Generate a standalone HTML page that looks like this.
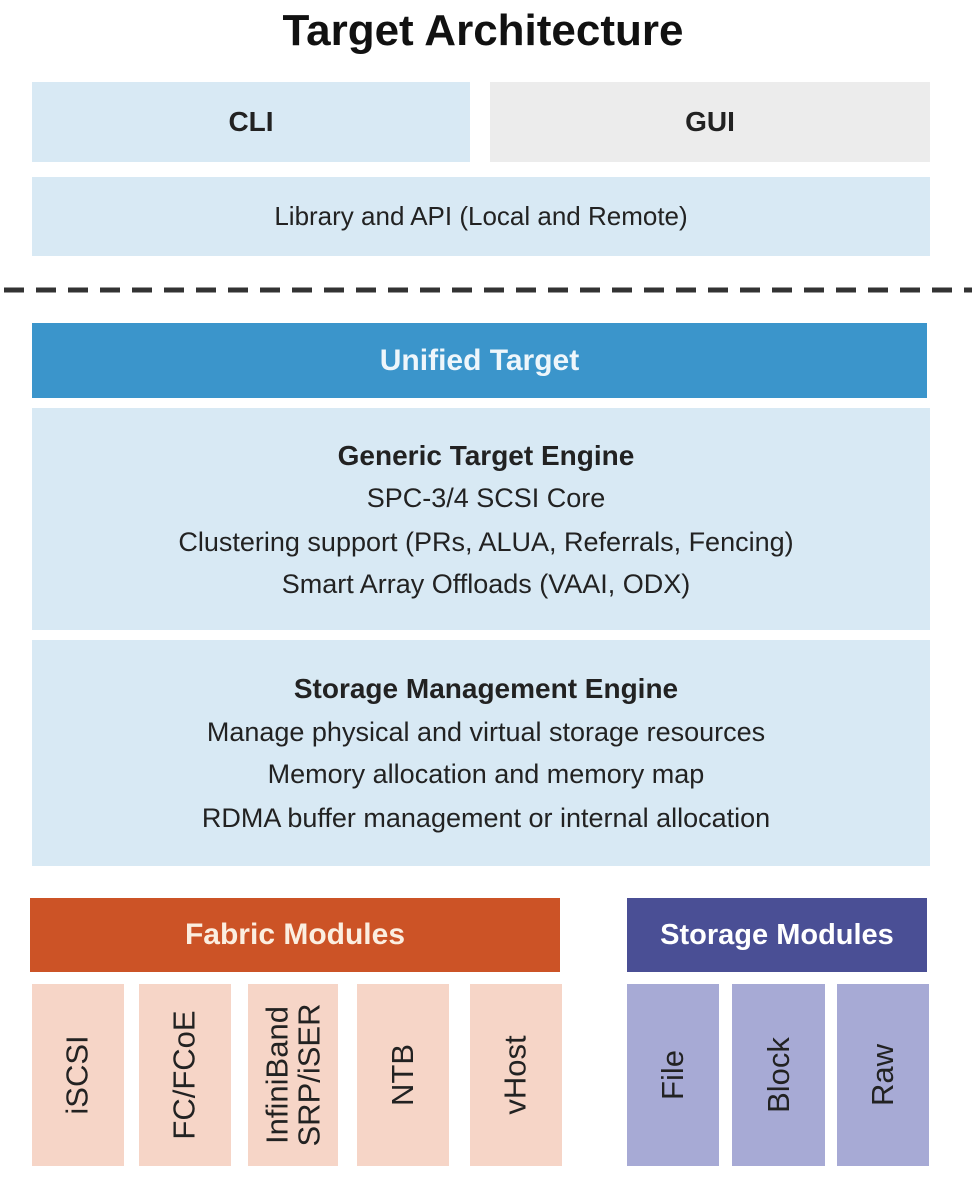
<!DOCTYPE html>
<html><head><meta charset="utf-8"><style>
body{margin:0;width:972px;height:1204px;background:#fff;position:relative;overflow:hidden;font-family:"Liberation Sans",sans-serif;color:#222}
.b{position:absolute;}
.t{position:absolute;left:0;right:0;text-align:center;white-space:nowrap}
.v{position:absolute;display:flex;align-items:center;justify-content:center}
.v span{transform:rotate(-90deg);white-space:nowrap;font-size:31px;line-height:32px;text-align:center;color:#222}
</style></head><body>
<div class="t" style="top:6px;font-size:44px;font-weight:bold;color:#111;left:-6px">Target Architecture</div>

<div class="b" style="left:32px;top:82px;width:438px;height:80px;background:#d8e9f4;line-height:80px;text-align:center;font-size:28px;font-weight:bold">CLI</div>
<div class="b" style="left:490px;top:82px;width:440px;height:80px;background:#ececec;line-height:80px;text-align:center;font-size:28px;font-weight:bold">GUI</div>
<div class="b" style="left:32px;top:177px;width:898px;height:79px;background:#d8e9f4;line-height:79px;text-align:center;font-size:26px">Library and API (Local and Remote)</div>

<svg class="b" style="left:0;top:285px" width="972" height="10"><line x1="4" y1="5" x2="972" y2="5" stroke="#333" stroke-width="5" stroke-dasharray="20,12"/></svg>

<div class="b" style="left:32px;top:323px;width:895px;height:75px;background:#3b95cb;line-height:75px;text-align:center;font-size:30px;font-weight:bold;color:#eef6fb">Unified Target</div>

<div class="b" style="left:32px;top:408px;width:898px;height:222px;background:#d8e9f4"></div>
<div class="t" style="top:440px;font-size:28px;font-weight:bold">Generic Target Engine</div>
<div class="t" style="top:483px;font-size:27px">SPC-3/4 SCSI Core</div>
<div class="t" style="top:527px;font-size:27px">Clustering support (PRs, ALUA, Referrals, Fencing)</div>
<div class="t" style="top:569px;font-size:27px">Smart Array Offloads (VAAI, ODX)</div>

<div class="b" style="left:32px;top:640px;width:898px;height:226px;background:#d8e9f4"></div>
<div class="t" style="top:673px;font-size:28px;font-weight:bold">Storage Management Engine</div>
<div class="t" style="top:717px;font-size:27px">Manage physical and virtual storage resources</div>
<div class="t" style="top:759px;font-size:27px">Memory allocation and memory map</div>
<div class="t" style="top:803px;font-size:27px">RDMA buffer management or internal allocation</div>

<div class="b" style="left:30px;top:898px;width:530px;height:74px;background:#cc5326;line-height:74px;text-align:center;font-size:30px;font-weight:bold;color:#fbeee0">Fabric Modules</div>
<div class="b" style="left:627px;top:898px;width:300px;height:74px;background:#4a4f95;line-height:74px;text-align:center;font-size:29px;font-weight:bold;color:#fff">Storage Modules</div>

<div class="v" style="left:32px;top:984px;width:92px;height:182px;background:#f6d5c7"><span>iSCSI</span></div>
<div class="v" style="left:139px;top:984px;width:92px;height:182px;background:#f6d5c7"><span>FC/FCoE</span></div>
<div class="v" style="left:248px;top:984px;width:90px;height:182px;background:#f6d5c7"><span>InfiniBand<br>SRP/iSER</span></div>
<div class="v" style="left:357px;top:984px;width:92px;height:182px;background:#f6d5c7"><span>NTB</span></div>
<div class="v" style="left:470px;top:984px;width:92px;height:182px;background:#f6d5c7"><span>vHost</span></div>

<div class="v" style="left:627px;top:984px;width:92px;height:182px;background:#a7aad5"><span>File</span></div>
<div class="v" style="left:732px;top:984px;width:93px;height:182px;background:#a7aad5"><span>Block</span></div>
<div class="v" style="left:837px;top:984px;width:92px;height:182px;background:#a7aad5"><span>Raw</span></div>
</body></html>
